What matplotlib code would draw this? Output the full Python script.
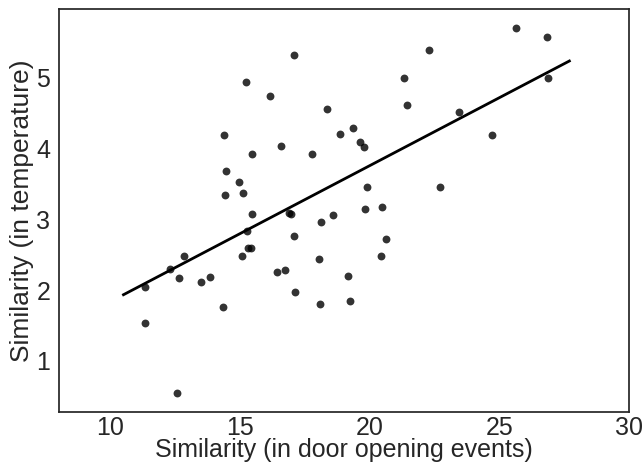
import numpy as np
import matplotlib
matplotlib.use("Agg")
import matplotlib.pyplot as plt

# Similarity scores per pair of rooms
door_similarity = [
    25.64, 26.83, 22.29, 17.07, 15.24, 16.17, 21.31, 26.88, 18.37, 21.44,
    23.45, 14.37, 18.84, 19.36, 19.64, 19.77, 16.59, 15.44, 17.76, 14.47,
    14.95, 15.11, 14.40, 19.90, 22.71, 15.47, 16.88, 16.96, 19.80, 20.48,
    18.13, 18.58, 15.25, 17.07, 20.64, 15.32, 15.42, 12.83, 15.07, 18.04,
    20.44, 16.44, 16.73, 12.28, 12.65, 13.50, 13.83, 11.33, 17.13, 19.18,
    14.34, 18.08, 19.22, 11.33, 12.55, 24.71,
]
temp_similarity = [
    5.71, 5.58, 5.39, 5.32, 4.95, 4.74, 5.00, 5.00, 4.56, 4.62,
    4.52, 4.20, 4.21, 4.29, 4.10, 4.02, 4.04, 3.93, 3.92, 3.69,
    3.53, 3.38, 3.34, 3.46, 3.46, 3.08, 3.09, 3.07, 3.15, 3.17,
    2.97, 3.06, 2.84, 2.76, 2.72, 2.60, 2.60, 2.49, 2.48, 2.44,
    2.49, 2.25, 2.29, 2.30, 2.17, 2.11, 2.18, 2.04, 1.97, 2.20,
    1.76, 1.81, 1.85, 1.54, 0.54, 4.20,
]
x_ticks = [10, 15, 20, 25, 30]
y_ticks = [1, 2, 3, 4, 5]
fit_range = [10.5, 27.7]

plt.rcParams["font.family"] = ["Liberation Sans", "DejaVu Sans"]

fig = plt.figure(figsize=(6.44, 4.67), dpi=100)
ax = fig.add_axes([0.0911, 0.1184, 0.8856, 0.8613])

x = np.array(door_similarity)
y = np.array(temp_similarity)
ax.scatter(x, y, s=32, color="black", alpha=0.8, linewidths=0)

slope, intercept = np.polyfit(x, y, 1)
xs = np.linspace(fit_range[0], fit_range[1], 100)
ax.plot(xs, slope * xs + intercept, color="black", lw=2)

ax.set_xlim(8, 30)
ax.margins(y=0.05)
ax.set_xticks(x_ticks)
ax.set_yticks(y_ticks)
ax.tick_params(length=0, labelsize=18, colors="#262626")
ax.tick_params(axis="x", pad=3)
ax.tick_params(axis="y", pad=6)
for sp in ax.spines.values():
    sp.set_color("#262626")
    sp.set_linewidth(1.25)

ax.set_xlabel("Similarity (in door opening events)", fontsize=18, color="#262626", labelpad=-1)
ax.set_ylabel("Similarity (in temperature)", fontsize=19, color="#262626", labelpad=2)

fig.savefig("out.png", dpi=100)
